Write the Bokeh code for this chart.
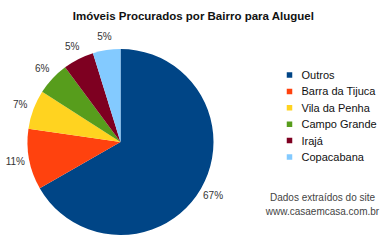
import math
from bokeh.plotting import figure
from bokeh.models import Range1d, ColumnDataSource
from bokeh.core.properties import value
from bokeh.embed import file_html
from bokeh.resources import INLINE

title = "Imóveis Procurados por Bairro para Aluguel"
categories = ["Outros", "Barra da Tijuca", "Vila da Penha", "Campo Grande", "Irajá", "Copacabana"]
shares = [67, 10.6, 6.8, 5.8, 5.4, 4.8]
colors = ["#004586", "#ff420e", "#ffd320", "#579d1c", "#7e0021", "#83caff"]
note = ["Dados extraídos do site", "www.casaemcasa.com.br"]

W, H = 385, 240
FONT = value("Liberation Sans")

p = figure(width=W, height=H, x_range=Range1d(0, W), y_range=Range1d(0, H),
           output_backend="svg", toolbar_location=None, min_border=0)
p.axis.visible = False
p.grid.visible = False
p.outline_line_color = None
p.background_fill_color = "white"
p.border_fill_color = "white"

cx, cy, r, r_lab = 120, H - 141.5, 93, 107
total = sum(shares)
starts, ends, lx, ly, labels = [], [], [], [], []
cum = 0.0
for v in shares:
    f = v / total
    a0 = math.pi / 2 - cum * 2 * math.pi
    a1 = math.pi / 2 - (cum + f) * 2 * math.pi
    starts.append(a0)
    ends.append(a1)
    mid = (a0 + a1) / 2
    lx.append(cx + r_lab * math.cos(mid))
    ly.append(cy + r_lab * math.sin(mid))
    labels.append(f"{round(f * 100)}%")
    cum += f

src = ColumnDataSource(dict(start=starts, end=ends, color=colors, lx=lx, ly=ly, lab=labels))
p.wedge(x=cx, y=cy, radius=r, start_angle="start", end_angle="end", direction="clock",
        fill_color="color", line_color=None, source=src)
p.text(x="lx", y="ly", text="lab", source=src, text_font=FONT, text_font_size="10px",
       text_color="#333333", text_align="center", text_baseline="middle")

# title
p.text(x=[193], y=[H - 15], text=[title], text_font=FONT, text_font_size="11.5px",
       text_font_style="bold", text_color="#111111", text_align="center", text_baseline="middle")

# legend
leg_y = [H - (74.5 + 16.4 * i) for i in range(len(categories))]
p.rect(x=[289] * len(categories), y=leg_y, width=5.5, height=5.5, fill_color=colors, line_color=None)
p.text(x=[301] * len(categories), y=leg_y, text=categories, text_font=FONT, text_font_size="11px",
       text_color="#111111", text_align="left", text_baseline="middle")

# note
p.text(x=[322, 322], y=[H - 197, H - 211], text=note, text_font=FONT, text_font_size="10px",
       text_color="#444444", text_align="center", text_baseline="middle")

open("out.html", "w").write(file_html(p, INLINE))
